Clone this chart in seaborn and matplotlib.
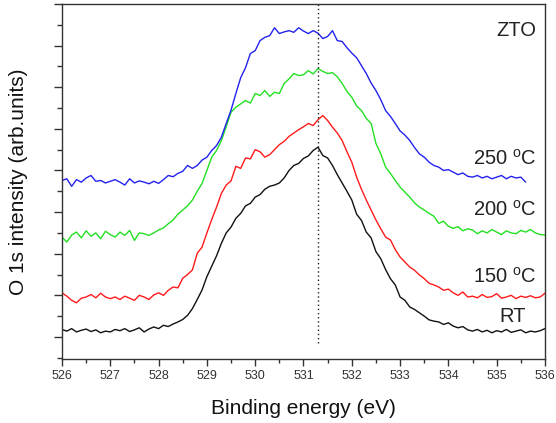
import numpy as np
import pandas as pd
import seaborn as sns
import matplotlib.pyplot as plt
from matplotlib.ticker import MultipleLocator, NullFormatter

# binding energy grid (eV), 0.1 eV steps
energy = [round(526 + 0.1 * i, 1) for i in range(101)]
energy_250 = energy[:97]  # blue trace stops at 535.6 eV

# O 1s intensity, arbitrary units (curves are vertically offset)
rt = [1.18, 1.14, 1.20, 1.12, 1.16, 1.19, 1.13, 1.17, 1.10, 1.14,
      1.12, 1.18, 1.15, 1.20, 1.13, 1.17, 1.22, 1.12, 1.19, 1.24,
      1.20, 1.28, 1.25, 1.31, 1.36, 1.42, 1.52, 1.68, 1.90, 2.13,
      2.45, 2.70, 2.95, 3.25, 3.50, 3.64, 3.85, 3.97, 4.15, 4.21,
      4.36, 4.42, 4.55, 4.62, 4.65, 4.70, 4.82, 5.00, 5.12, 5.17,
      5.29, 5.35, 5.48, 5.56, 5.36, 5.30, 5.12, 4.90, 4.70, 4.50,
      4.29, 3.95, 3.80, 3.52, 3.38, 3.05, 2.88, 2.62, 2.40, 2.25,
      1.96, 1.88, 1.72, 1.66, 1.58, 1.50, 1.41, 1.38, 1.36, 1.30,
      1.34, 1.26, 1.22, 1.25, 1.17, 1.14, 1.18, 1.12, 1.16, 1.10,
      1.15, 1.12, 1.18, 1.11, 1.14, 1.17, 1.10, 1.14, 1.12, 1.15, 1.20]

t150 = [2.06, 1.98, 1.88, 1.82, 1.93, 1.96, 2.02, 1.94, 2.05, 1.96,
        1.92, 1.96, 1.90, 1.98, 1.93, 1.88, 2.00, 1.96, 1.90, 2.01,
        2.06, 2.00, 2.12, 2.20, 2.18, 2.41, 2.50, 2.61, 3.01, 3.16,
        3.50, 3.82, 4.12, 4.45, 4.65, 4.75, 5.10, 5.05, 5.30, 5.28,
        5.50, 5.45, 5.32, 5.38, 5.50, 5.62, 5.70, 5.82, 5.90, 5.98,
        6.05, 6.13, 6.08, 6.22, 6.32, 6.20, 6.04, 5.90, 5.72, 5.45,
        5.20, 4.84, 4.55, 4.29, 4.05, 3.81, 3.60, 3.40, 3.33, 3.10,
        2.92, 2.80, 2.68, 2.60, 2.49, 2.40, 2.29, 2.25, 2.20, 2.12,
        2.15, 2.06, 2.00, 2.08, 1.96, 1.98, 1.94, 2.02, 1.95, 1.97,
        2.04, 1.93, 1.96, 2.00, 1.92, 1.98, 1.95, 1.99, 1.94, 1.96, 2.05]

t200 = [3.40, 3.28, 3.45, 3.52, 3.38, 3.55, 3.42, 3.50, 3.36, 3.54,
        3.46, 3.40, 3.52, 3.44, 3.56, 3.32, 3.50, 3.48, 3.44, 3.50,
        3.57, 3.62, 3.72, 3.81, 3.95, 4.05, 4.15, 4.29, 4.50, 4.69,
        5.00, 5.32, 5.48, 5.72, 6.05, 6.40, 6.52, 6.60, 6.68, 6.62,
        6.85, 6.80, 6.92, 6.78, 6.88, 6.85, 7.09, 7.20, 7.33, 7.28,
        7.30, 7.40, 7.32, 7.45, 7.38, 7.33, 7.35, 7.25, 7.09, 6.90,
        6.76, 6.55, 6.44, 6.25, 6.13, 5.65, 5.40, 5.08, 4.93, 4.76,
        4.60, 4.48, 4.36, 4.22, 4.12, 4.05, 3.97, 3.90, 3.73, 3.78,
        3.66, 3.61, 3.65, 3.55, 3.60, 3.57, 3.48, 3.55, 3.50, 3.58,
        3.52, 3.46, 3.55, 3.50, 3.48, 3.56, 3.52, 3.58, 3.50, 3.46, 3.45]

t250 = [4.76, 4.80, 4.62, 4.78, 4.72, 4.82, 4.88, 4.74, 4.76, 4.70,
        4.74, 4.78, 4.72, 4.65, 4.80, 4.70, 4.75, 4.72, 4.68, 4.74,
        4.69, 4.78, 4.88, 4.85, 4.93, 4.98, 5.12, 5.05, 5.12, 5.25,
        5.32, 5.48, 5.60, 5.80, 6.13, 6.45, 6.85, 7.23, 7.47, 7.81,
        7.88, 8.12, 8.20, 8.24, 8.43, 8.29, 8.33, 8.36, 8.32, 8.43,
        8.35, 8.29, 8.36, 8.30, 8.17, 8.22, 8.36, 8.12, 8.10, 7.95,
        7.82, 7.71, 7.52, 7.33, 7.10, 6.92, 6.70, 6.44, 6.30, 6.13,
        5.95, 5.85, 5.72, 5.55, 5.40, 5.32, 5.20, 5.12, 5.08, 5.00,
        5.02, 4.96, 4.90, 4.94, 4.86, 4.84, 4.88, 4.82, 4.86, 4.80,
        4.84, 4.88, 4.80, 4.86, 4.82, 4.84, 4.72]

labels = ["RT", "150 $^{\\mathrm{o}}$C", "200 $^{\\mathrm{o}}$C", "250 $^{\\mathrm{o}}$C"]
colors = ["#111111", "#ff1a1a", "#22e022", "#2222ee"]
peak_pos = 531.3

# 组装长表
df = pd.concat([
    pd.DataFrame({"E": energy, "I": rt, "s": "RT"}),
    pd.DataFrame({"E": energy, "I": t150, "s": "150"}),
    pd.DataFrame({"E": energy, "I": t200, "s": "200"}),
    pd.DataFrame({"E": energy_250, "I": t250, "s": "250"}),
])

sns.set_style("ticks")
plt.rcParams["font.family"] = ["Liberation Sans", "DejaVu Sans"]
plt.rcParams["mathtext.fontset"] = "custom"
plt.rcParams["mathtext.rm"] = "Liberation Sans"

fig = plt.figure(figsize=(5.56, 4.23), dpi=100)
ax = fig.add_axes([0.1115, 0.1513, 0.8687, 0.8392])

sns.lineplot(data=df, x="E", y="I", hue="s", palette=dict(zip(["RT", "150", "200", "250"], colors)),
             legend=False, linewidth=1.0, ax=ax, sort=False)

ax.vlines(peak_pos, 0.86, 9.0, colors="#222222", linestyles=(0, (1, 2)), linewidth=1.0)

ax.set_xlim(526, 536)
ax.set_ylim(0.47, 9.0)
ax.xaxis.set_major_locator(MultipleLocator(1))
ax.xaxis.set_minor_locator(MultipleLocator(0.5))
ax.yaxis.set_major_locator(MultipleLocator(1))
ax.yaxis.set_minor_locator(MultipleLocator(0.5))
ax.yaxis.set_major_formatter(NullFormatter())
ax.tick_params(axis="x", which="major", length=5, width=1, labelsize=9, pad=3, colors="#333333")
ax.tick_params(axis="x", which="minor", length=3, width=1, colors="#333333")
ax.tick_params(axis="y", which="major", length=6, width=1, colors="#333333")
ax.tick_params(axis="y", which="minor", length=3.5, width=1, colors="#333333")
for sp in ax.spines.values():
    sp.set_visible(True)
    sp.set_linewidth(1.0)
    sp.set_color("#333333")

ax.set_xlabel("Binding energy (eV)", fontsize=15, labelpad=12, color="#111111")
ax.set_ylabel("O 1s intensity (arb.units)", fontsize=15, labelpad=15, color="#111111")

txt = dict(fontsize=14.5, color="#222222", ha="right", va="center")
ax.text(535.83, 8.36, "ZTO", **txt)
ax.text(535.83, 5.29, labels[3], **txt)
ax.text(535.83, 4.05, labels[2], **txt)
ax.text(535.83, 2.44, labels[1], **txt)
ax.text(535.6, 1.48, labels[0], **txt)

fig.savefig("out.png", dpi=100)
